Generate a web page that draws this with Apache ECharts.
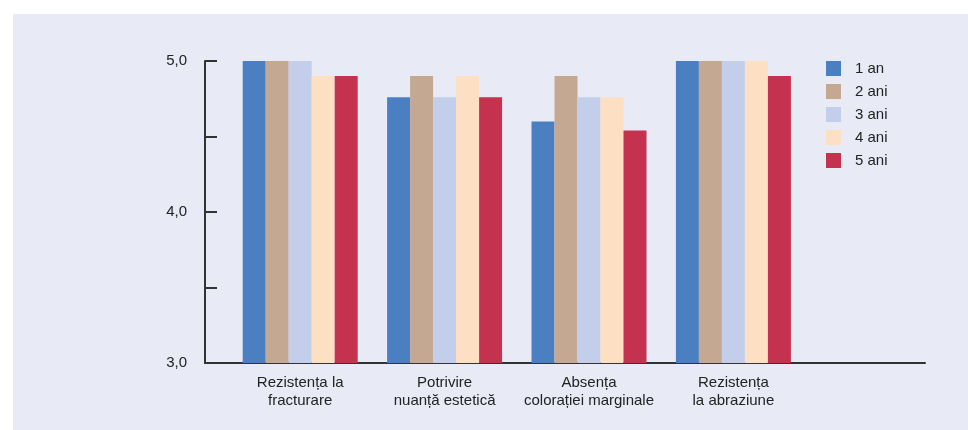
<!DOCTYPE html>
<html>
<head>
<meta charset="utf-8">
<script src="https://cdn.jsdelivr.net/npm/echarts@6/dist/echarts.min.js"></script>
<style>
  html, body { margin: 0; padding: 0; background: #fff; }
  #chart { width: 968px; height: 430px; }
</style>
</head>
<body>
<div id="chart"></div>
<script>
// categorii (ultima coloană goală)
const categories = [
  "Rezistența la\nfracturare",
  "Potrivire\nnuanță estetică",
  "Absența\ncolorației marginale",
  "Rezistența\nla abraziune",
  ""
];
const seriesNames = ["1 an", "2 ani", "3 ani", "4 ani", "5 ani"];
const an1 = [5.0, 4.76, 4.6, 5.0, null];
const ani2 = [5.0, 4.9, 4.9, 5.0, null];
const ani3 = [5.0, 4.76, 4.76, 5.0, null];
const ani4 = [4.9, 4.9, 4.76, 5.0, null];
const ani5 = [4.9, 4.76, 4.54, 4.9, null];
const colors = ["#4a80c2", "#c4a892", "#c3cfea", "#fde0c4", "#c5324f"];

const values = [an1, ani2, ani3, ani4, ani5];

const chart = echarts.init(document.getElementById("chart"));

const option = {
  animation: false,
  backgroundColor: "#ffffff",
  textStyle: { fontFamily: "Liberation Sans, Arial, sans-serif" },
  graphic: [
    {
      type: "rect",
      z: -10,
      silent: true,
      shape: { x: 13, y: 14, width: 955, height: 416 },
      style: { fill: "#e8ebf6" }
    }
  ],
  legend: {
    orient: "vertical",
    left: 826,
    top: 61,
    padding: 0,
    itemWidth: 15,
    itemHeight: 15,
    itemGap: 8,
    icon: "rect",
    textStyle: { fontSize: 15, color: "#222", padding: [0, 0, 0, 9] },
    data: seriesNames
  },
  grid: [
    // axele
    { left: 205, top: 61, width: 720, height: 302 },
    // barele
    { left: 228, top: 61, width: 722, height: 302 }
  ],
  xAxis: [
    {
      type: "category",
      gridIndex: 0,
      data: categories,
      axisLine: { show: true, lineStyle: { color: "#333", width: 2 } },
      axisTick: { show: false },
      axisLabel: { show: false },
      splitLine: { show: false }
    },
    {
      type: "category",
      gridIndex: 1,
      data: categories,
      axisLine: { show: false },
      axisTick: { show: false },
      axisLabel: {
        fontSize: 15,
        color: "#222",
        lineHeight: 18,
        margin: 11,
        interval: 0
      },
      splitLine: { show: false }
    }
  ],
  yAxis: [
    {
      type: "value",
      gridIndex: 0,
      min: 3,
      max: 5,
      interval: 0.5,
      axisLine: { show: true, lineStyle: { color: "#333", width: 2 } },
      axisTick: { show: true, inside: true, length: 12, lineStyle: { color: "#333", width: 2 } },
      axisLabel: {
        fontSize: 15,
        color: "#222",
        margin: 18,
        formatter: (v) => (v % 1 === 0 ? v.toFixed(1).replace(".", ",") : "")
      },
      splitLine: { show: false }
    },
    {
      type: "value",
      gridIndex: 1,
      min: 3,
      max: 5,
      show: false,
      splitLine: { show: false }
    }
  ],
  series: seriesNames.map((name, i) => ({
    name: name,
    type: "bar",
    xAxisIndex: 1,
    yAxisIndex: 1,
    data: values[i],
    barWidth: 23,
    barGap: "0%",
    itemStyle: { color: colors[i] },
    z: 1
  }))
};

chart.setOption(option);
</script>
</body>
</html>
